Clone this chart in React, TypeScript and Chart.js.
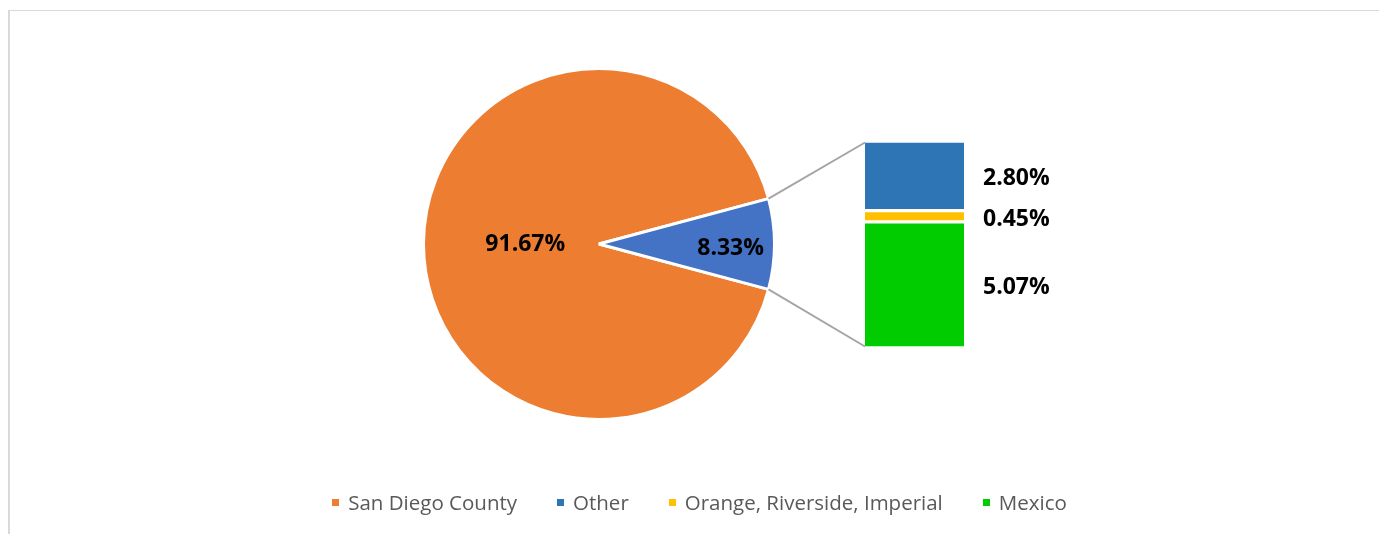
import React, { useEffect, useRef } from "react";
import { Chart, registerables } from "chart.js";

Chart.register(...registerables);

// ---- data ----
const pieLabels = ["San Diego County", "Other"];
const pieValues = [91.67, 8.33];
const pieColors = ["#ED7D31", "#4472C4"];

const barLabels = ["Mexico", "Orange, Riverside, Imperial", "Other"]; // bottom -> top
const barValues = [5.07, 0.45, 2.8];
const barColors = ["#00CC00", "#FFC000", "#2E75B6"];

const legendLabels = ["San Diego County", "Other", "Orange, Riverside, Imperial", "Mexico"];
const legendColors = ["#ED7D31", "#2E75B6", "#FFC000", "#00CC00"];

// ---- layout constants ----
const W = 1377;
const H = 526;
const PIE_LABEL_RADIUS = [0.42, 0.75];
const PIE_LABEL_DY = [0, 4];
const LABEL_FONT = 'bold 23px "Open Sans"';

export default function App() {
  const pieRef = useRef<HTMLCanvasElement | null>(null);
  const barRef = useRef<HTMLCanvasElement | null>(null);

  useEffect(() => {
    document.documentElement.style.overflow = "hidden";
    document.body.style.overflow = "hidden";

    const pieLabelPlugin = {
      id: "pieLabels",
      afterDatasetsDraw(chart: any) {
        const ctx = chart.ctx;
        const meta = chart.getDatasetMeta(0);
        ctx.save();
        ctx.font = LABEL_FONT;
        ctx.fillStyle = "#000000";
        ctx.textAlign = "center";
        ctx.textBaseline = "middle";
        meta.data.forEach((arc: any, i: number) => {
          const mid = (arc.startAngle + arc.endAngle) / 2;
          const r = arc.outerRadius * PIE_LABEL_RADIUS[i];
          const x = arc.x + Math.cos(mid) * r;
          const y = arc.y + Math.sin(mid) * r + PIE_LABEL_DY[i];
          ctx.fillText(pieValues[i].toFixed(2) + "%", x, y);
        });
        ctx.restore();
      },
    };

    const pie = new Chart(pieRef.current as HTMLCanvasElement, {
      type: "pie",
      data: {
        labels: pieLabels,
        datasets: [
          {
            data: pieValues,
            backgroundColor: pieColors,
            borderColor: "#FFFFFF",
            borderWidth: 3,
            radius: 175.5,
          } as any,
        ],
      },
      options: {
        animation: false,
        responsive: true,
        maintainAspectRatio: false,
        rotation: 105,
        layout: { padding: { left: 0, right: W - 1184, top: 0, bottom: H - 472 } },
        plugins: { legend: { display: false }, tooltip: { enabled: false } },
      },
      plugins: [pieLabelPlugin],
    });

    const barExtras = {
      id: "barExtras",
      afterDatasetsDraw(chart: any) {
        const ctx = chart.ctx;
        // connector lines from the "Other" slice to the bar
        const arc: any = pie.getDatasetMeta(0).data[1];
        const topEl: any = chart.getDatasetMeta(barValues.length - 1).data[0];
        const botEl: any = chart.getDatasetMeta(0).data[0];
        const left = topEl.x - topEl.width / 2;
        ctx.save();
        ctx.strokeStyle = "#A5A5A5";
        ctx.lineWidth = 2;
        ctx.beginPath();
        ctx.moveTo(arc.x + Math.cos(arc.startAngle) * arc.outerRadius, arc.y + Math.sin(arc.startAngle) * arc.outerRadius);
        ctx.lineTo(left, topEl.y + 1.5);
        ctx.moveTo(arc.x + Math.cos(arc.endAngle) * arc.outerRadius, arc.y + Math.sin(arc.endAngle) * arc.outerRadius);
        ctx.lineTo(left, botEl.base - 1.5);
        ctx.stroke();

        // value labels to the right of the bar
        ctx.font = LABEL_FONT;
        ctx.fillStyle = "#000000";
        ctx.textAlign = "left";
        ctx.textBaseline = "middle";
        barValues.forEach((v, i) => {
          const el: any = chart.getDatasetMeta(i).data[0];
          const x = el.x + el.width / 2 + 19;
          const y = (el.y + el.base) / 2 + 3;
          ctx.fillText(v.toFixed(2) + "%", x, y);
        });
        ctx.restore();
      },
    };

    const total = barValues.reduce((a, b) => a + b, 0);

    const bar = new Chart(barRef.current as HTMLCanvasElement, {
      type: "bar",
      data: {
        labels: ["Other"],
        datasets: barValues.map((v, i) => ({
          label: barLabels[i],
          data: [v],
          backgroundColor: barColors[i],
          borderColor: "#FFFFFF",
          borderWidth: { top: 2, bottom: 2, left: 0, right: 0 },
          borderSkipped: false,
          barPercentage: 1,
          categoryPercentage: 1,
        })) as any,
      },
      options: {
        animation: false,
        responsive: true,
        maintainAspectRatio: false,
        layout: { padding: { left: 858, right: W - 957, top: 133, bottom: H - 340 } },
        scales: {
          x: { stacked: true, display: false },
          y: { stacked: true, display: false, min: 0, max: total },
        },
        plugins: { legend: { display: false }, tooltip: { enabled: false } },
      },
      plugins: [barExtras],
    });

    return () => {
      bar.destroy();
      pie.destroy();
    };
  }, []);

  const abs: React.CSSProperties = { position: "absolute", left: 0, top: 0, width: W, height: H };

  return (
    <div style={{ position: "relative", marginLeft: -1, width: W, height: H, overflow: "hidden" }}>
      <div
        style={{
          position: "absolute",
          left: 0,
          top: 2,
          width: W - 1,
          height: 700,
          boxSizing: "border-box",
          borderLeft: "3px solid #D9D9D9",
          borderTop: "1px solid #D9D9D9",
          borderRight: "2px solid #D9D9D9",
        }}
      />
      <div style={abs}>
        <canvas ref={pieRef} />
      </div>
      <div style={abs}>
        <canvas ref={barRef} />
      </div>
      <div
        style={{
          position: "absolute",
          left: 4,
          top: 480,
          width: W,
          height: 28,
          display: "flex",
          justifyContent: "center",
          alignItems: "center",
          fontFamily: '"Open Sans"',
          fontSize: 20.5,
          lineHeight: "28px",
          color: "#595959",
          whiteSpace: "nowrap",
        }}
      >
        {legendLabels.map((l, i) => (
          <div key={l} style={{ display: "flex", alignItems: "center", marginLeft: i === 0 ? 0 : 40 }}>
            <span style={{ display: "inline-block", width: 7, height: 7, background: legendColors[i], marginRight: 9 }} />
            <span>{l}</span>
          </div>
        ))}
      </div>
    </div>
  );
}
